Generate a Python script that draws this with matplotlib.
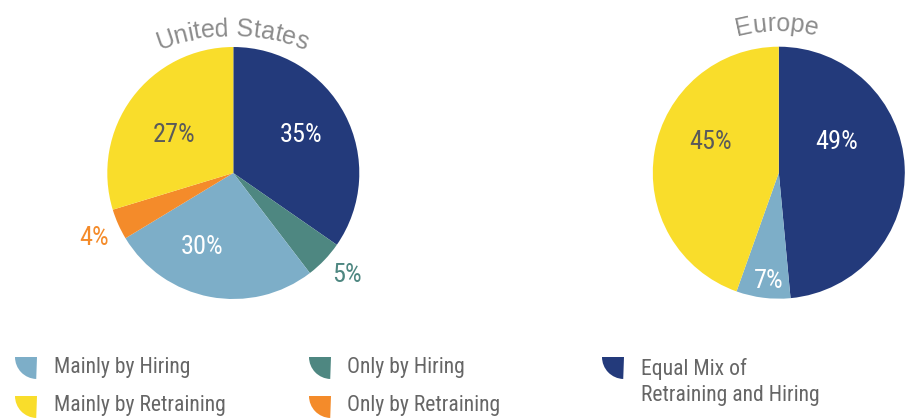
import matplotlib
matplotlib.use("Agg")
import matplotlib.pyplot as plt
import numpy as np
from matplotlib.patches import Wedge
from matplotlib.textpath import TextToPath
from matplotlib.font_manager import FontProperties

# ---- data ----
us_categories = ["Equal Mix of\nRetraining and Hiring", "Only by Hiring", "Mainly by Hiring",
                 "Only by Retraining", "Mainly by Retraining"]
# slice sizes as drawn in the source graphic
us_slice_values = [35, 5, 27, 4, 30]
# percentages printed on the slices
us_labels = [35, 5, 30, 4, 27]

eu_categories = ["Equal Mix of\nRetraining and Hiring", "Mainly by Hiring", "Mainly by Retraining"]
eu_slice_values = [49, 7, 45]
eu_labels = [49, 7, 45]

titles = ["United States", "Europe"]

legend_order = ["Mainly by Hiring", "Mainly by Retraining", "Only by Hiring",
                "Only by Retraining", "Equal Mix of\nRetraining and Hiring"]

colors = {
    "Equal Mix of\nRetraining and Hiring": "#233a7b",
    "Only by Hiring": "#4e8781",
    "Mainly by Hiring": "#7daec8",
    "Only by Retraining": "#f48b2a",
    "Mainly by Retraining": "#f9dd2b",
}

NARROW = ["Roboto Condensed", "Liberation Sans", "DejaVu Sans"]
WIDE = ["Liberation Sans", "DejaVu Sans"]
plt.rcParams["font.family"] = NARROW

W, H = 907, 420
fig = plt.figure(figsize=(W / 100, H / 100), dpi=100)
ax = fig.add_axes([0, 0, 1, 1])

R = 126


def draw_pie(cats, vals, labels, cx, cy_px, label_specs):
    wedges, _ = ax.pie(vals, colors=[colors[c] for c in cats], startangle=90,
                       counterclock=False, radius=R, center=(cx, H - cy_px),
                       wedgeprops=dict(linewidth=0))
    for w, lab, c in zip(wedges, labels, cats):
        frac, dang, col = label_specs[c]
        ang = np.deg2rad((w.theta1 + w.theta2) / 2 + dang)
        x = cx + frac * R * np.cos(ang)
        y = H - cy_px + frac * R * np.sin(ang)
        ax.text(x, y, f"{lab}%", color=col, fontsize=19, ha="center", va="center")


draw_pie(us_categories, us_slice_values, us_labels, 233.3, 173, {
    "Equal Mix of\nRetraining and Hiring": (0.614, 1.8, "white"),
    "Only by Hiring": (1.21, 1.7, colors["Only by Hiring"]),
    "Mainly by Hiring": (0.637, -12.5, "white"),
    "Only by Retraining": (1.22, 0.8, colors["Only by Retraining"]),
    "Mainly by Retraining": (0.557, 3.7, "#5a5a5a"),
})
draw_pie(eu_categories, eu_slice_values, eu_labels, 778.8, 172.7, {
    "Equal Mix of\nRetraining and Hiring": (0.52, 24.8, "white"),
    "Mainly by Hiring": (0.86, 2.0, "white"),
    "Mainly by Retraining": (0.59, -14.3, "#5a5a5a"),
})


def curved_text(s, cx, base_top_px, Rarc, size, color):
    fp = FontProperties(family=WIDE, size=size)
    t2p = TextToPath()

    def width(txt):
        if not txt:
            return 0.0
        w, h, d = t2p.get_text_width_height_descent(txt, fp, ismath=False)
        return w * 100 / 72

    total = width(s)
    cy = H - base_top_px - Rarc
    for i, ch in enumerate(s):
        a = width(s[:i])
        b = width(s[:i + 1])
        mid = (a + b) / 2 - total / 2
        th = mid / Rarc
        x = cx + Rarc * np.sin(th)
        y = cy + Rarc * np.cos(th)
        ax.text(x, y, ch, fontsize=size, color=color, ha="center", va="baseline",
                rotation=-np.rad2deg(th), rotation_mode="anchor", family=WIDE)


curved_text(titles[0], 232, 36, 200, 18, "#8c8c8c")
curved_text(titles[1], 777, 31, 150, 18, "#8c8c8c")

# ---- legend ----
# marker corner (x, y) in px from top-left, text anchor x, text center y
leg_pos = {
    "Mainly by Hiring": (37, 357, 54, 367),
    "Mainly by Retraining": (37, 396, 54, 406),
    "Only by Hiring": (331, 357, 347, 367),
    "Only by Retraining": (331, 396, 347, 406),
    "Equal Mix of\nRetraining and Hiring": (624, 357, 641, 382),
}
for c in legend_order:
    mx, my, tx, ty = leg_pos[c]
    ax.add_patch(Wedge((mx, H - my), 22, 180, 268, color=colors[c], linewidth=0))
    ax.text(tx, H - ty, c, fontsize=15.6, color="#666666", ha="left", va="center",
            linespacing=1.25)

ax.set_xlim(0, W)
ax.set_ylim(0, H)
ax.set_aspect("equal")
ax.axis("off")

fig.savefig("out.png", dpi=100)
